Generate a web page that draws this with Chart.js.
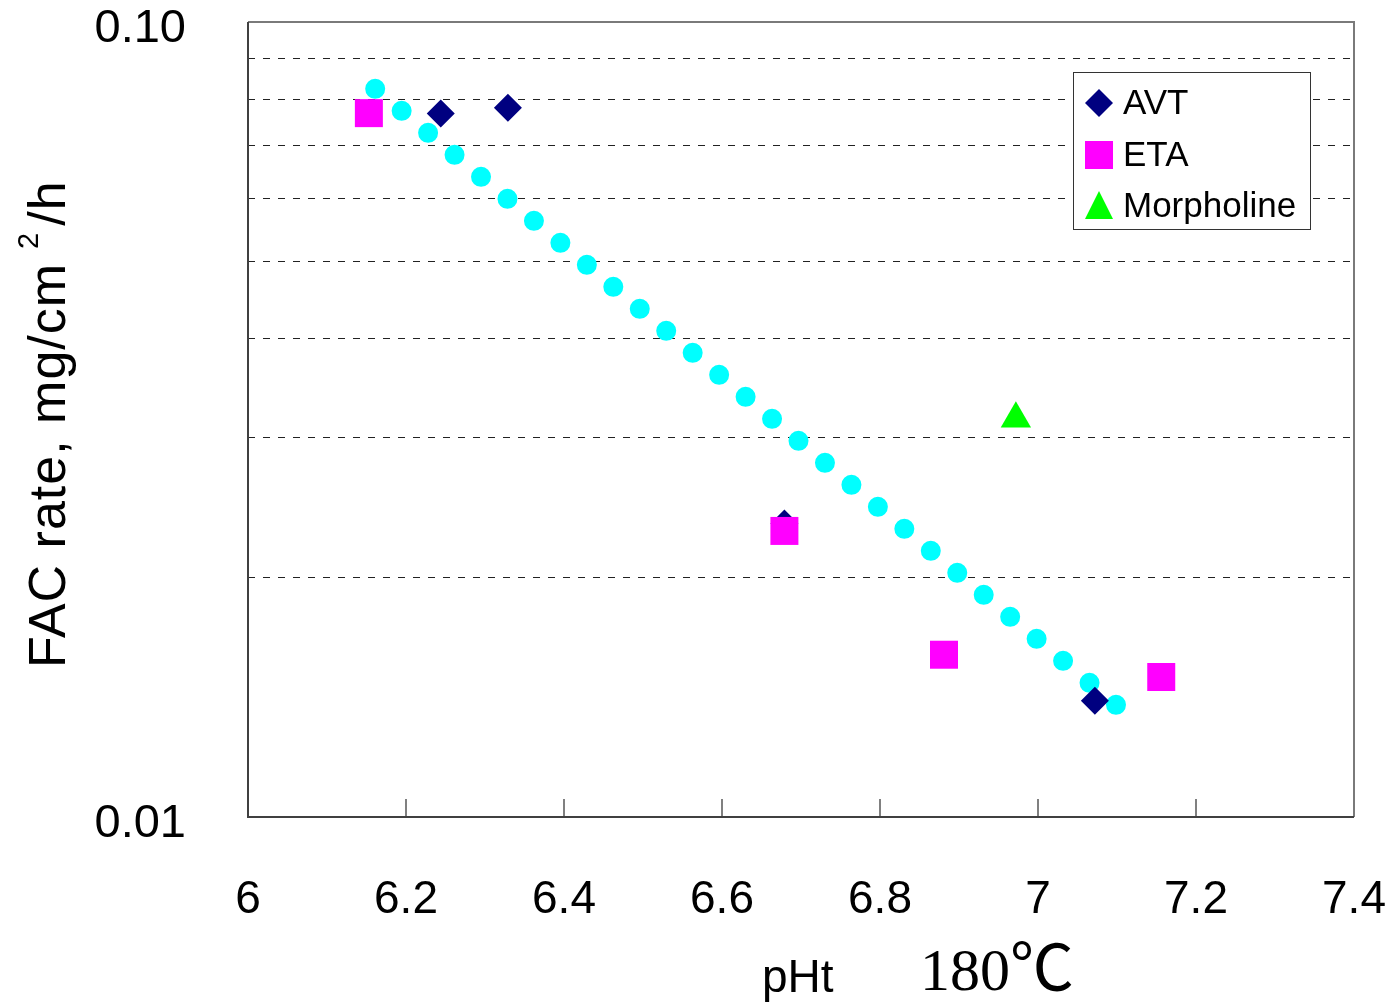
<!DOCTYPE html>
<html>
<head>
<meta charset="utf-8">
<script src="https://cdn.jsdelivr.net/npm/chart.js@4.4.0/dist/chart.umd.min.js"></script>
<style>
  html, body { margin: 0; padding: 0; background: #fff; }
</style>
</head>
<body>
<canvas id="fac" width="1391" height="1003"></canvas>
<script>
// FAC rate vs pHt at 180℃
var xTicks = [6, 6.2, 6.4, 6.6, 6.8, 7, 7.2, 7.4];
var yGrid = [0.01, 0.02, 0.03, 0.04, 0.05, 0.06, 0.07, 0.08, 0.09, 0.1];
var yLabelValues = [0.01, 0.1];
var yLabelTexts = ["0.01", "0.10"];

var seriesNames = ["AVT", "ETA", "Morpholine"];
var avtPH = [6.244, 6.329, 6.679, 7.072];
var avtRate = [0.0767, 0.0780, 0.0234, 0.0140];
var etaPH = [6.153, 6.679, 6.881, 7.156];
var etaRate = [0.0768, 0.0229, 0.0160, 0.0150];
var morphPH = [6.972];
var morphRate = [0.0317];
// dotted trend line (end points)
var trendPH = [6.161, 7.099];
var trendRate = [0.0824, 0.01383];

function pts(xs, ys) {
  return xs.map(function (x, i) { return { x: x, y: ys[i] }; });
}
function near(a, b) { return Math.abs(a - b) < 1e-9; }

Chart.defaults.font.family = '"Liberation Sans", Arial, sans-serif';
Chart.defaults.color = '#000';

// frame, inner ticks, legend box and axis titles
var decorations = {
  id: 'decorations',
  afterDraw: function (chart) {
    var ctx = chart.ctx, a = chart.chartArea, xs = chart.scales.x;
    ctx.save();

    ctx.strokeStyle = '#808080';
    ctx.lineWidth = 2;
    xTicks.forEach(function (v) {
      if (v <= xs.min || v >= xs.max) return;
      var px = Math.round(xs.getPixelForValue(v));
      ctx.beginPath();
      ctx.moveTo(px, a.bottom);
      ctx.lineTo(px, a.bottom - 18);
      ctx.stroke();
    });

    ctx.strokeStyle = '#7a7a7a';
    ctx.beginPath();
    ctx.moveTo(a.left, a.top);
    ctx.lineTo(a.right, a.top);
    ctx.lineTo(a.right, a.bottom);
    ctx.stroke();
    ctx.strokeStyle = '#404040';
    ctx.beginPath();
    ctx.moveTo(a.left, a.top);
    ctx.lineTo(a.left, a.bottom);
    ctx.lineTo(a.right, a.bottom);
    ctx.stroke();

    // legend
    var lx = 1073.5, ly = 72.5, lw = 237, lh = 157;
    ctx.fillStyle = '#fff';
    ctx.fillRect(lx, ly, lw, lh);
    ctx.strokeStyle = '#333';
    ctx.lineWidth = 1;
    ctx.strokeRect(lx, ly, lw, lh);
    var rows = [103, 155, 206];
    ctx.font = '35px "Liberation Sans", Arial, sans-serif';
    ctx.textBaseline = 'middle';
    ctx.textAlign = 'left';
    seriesNames.forEach(function (name, i) {
      var ds = chart.data.datasets.find(function (d) { return d.label === name; });
      var cx = 1099, cy = rows[i];
      ctx.fillStyle = ds.backgroundColor;
      ctx.beginPath();
      if (ds.pointStyle === 'rectRot') {
        ctx.moveTo(cx, cy - 14); ctx.lineTo(cx + 14, cy); ctx.lineTo(cx, cy + 14); ctx.lineTo(cx - 14, cy);
      } else if (ds.pointStyle === 'rect') {
        ctx.rect(cx - 14, cy - 14, 28, 28);
      } else {
        ctx.moveTo(cx, cy - 15); ctx.lineTo(cx + 14, cy + 13); ctx.lineTo(cx - 14, cy + 13);
      }
      ctx.closePath();
      ctx.fill();
      ctx.fillStyle = '#000';
      ctx.fillText(name, 1123, cy + 1);
    });

    // y title with superscript
    ctx.fillStyle = '#000';
    ctx.translate(65, 668);
    ctx.rotate(-Math.PI / 2);
    ctx.textBaseline = 'alphabetic';
    ctx.font = '52px "Liberation Sans", Arial, sans-serif';
    ctx.letterSpacing = '1px';
    var main = 'FAC rate, mg/cm';
    ctx.fillText(main, 0, 0);
    var w1 = ctx.measureText(main).width;
    ctx.font = '29px "Liberation Sans", Arial, sans-serif';
    ctx.fillText('2', w1 + 14, -27);
    var w2 = ctx.measureText('2').width;
    ctx.font = '52px "Liberation Sans", Arial, sans-serif';
    ctx.fillText('/h', w1 + 14 + w2 + 6, 0);
    ctx.setTransform(1, 0, 0, 1, 0, 0);
    ctx.letterSpacing = '0px';

    // x title
    ctx.font = '46px "Liberation Sans", Arial, sans-serif';
    ctx.fillText('pHt', 762, 992);
    ctx.font = '60px "Liberation Serif", "Times New Roman", serif';
    ctx.fillText('180', 920, 990);
    var w3 = ctx.measureText('180').width;
    ctx.font = '64px "Noto Sans CJK JP", sans-serif';
    ctx.fillText('℃', 920 + w3, 990);

    ctx.restore();
  }
};

var chart = new Chart(document.getElementById('fac'), {
  type: 'scatter',
  data: {
    datasets: [
      {
        label: 'AVT',
        data: pts(avtPH, avtRate),
        pointStyle: 'rectRot',
        pointRadius: 14,
        borderWidth: 0,
        backgroundColor: '#000080',
        borderColor: '#000080',
        order: 3
      },
      {
        label: 'ETA',
        data: pts(etaPH, etaRate),
        pointStyle: 'rect',
        pointRadius: 19.8,
        borderWidth: 0,
        backgroundColor: '#FF00FF',
        borderColor: '#FF00FF',
        order: 1
      },
      {
        label: 'Morpholine',
        data: pts(morphPH, morphRate),
        pointStyle: 'triangle',
        pointRadius: 17.5,
        borderWidth: 0,
        backgroundColor: '#00FF00',
        borderColor: '#00FF00',
        order: 2
      },
      {
        label: 'trend',
        data: pts(trendPH, trendRate),
        showLine: true,
        pointRadius: 0,
        borderColor: '#00FFFF',
        borderWidth: 20,
        borderDash: [0, 34.41],
        borderCapStyle: 'round',
        order: 4
      }
    ]
  },
  options: {
    responsive: false,
    animation: false,
    events: [],
    layout: { padding: { top: 22, right: 37, left: 0, bottom: 0 } },
    plugins: {
      legend: { display: false },
      tooltip: { enabled: false }
    },
    scales: {
      x: {
        type: 'linear',
        min: 6,
        max: 7.4,
        afterBuildTicks: function (scale) {
          scale.ticks = xTicks.map(function (v) { return { value: v }; });
        },
        afterFit: function (scale) {
          scale.height = 186;
          scale.paddingLeft = 0;
          scale.paddingRight = 0;
        },
        grid: { display: false, drawTicks: false },
        border: { display: false },
        ticks: {
          padding: 56,
          maxRotation: 0,
          autoSkip: false,
          font: { size: 46 },
          callback: function (v) { return String(Number(Number(v).toFixed(1))); }
        }
      },
      y: {
        type: 'logarithmic',
        min: 0.01,
        max: 0.1,
        afterBuildTicks: function (scale) {
          scale.ticks = yGrid.map(function (v) { return { value: v }; });
        },
        afterFit: function (scale) {
          scale.width = 248;
          scale.paddingTop = 0;
          scale.paddingBottom = 0;
        },
        grid: {
          drawTicks: false,
          lineWidth: 1,
          color: function (c) {
            if (c.tick && (near(c.tick.value, 0.01) || near(c.tick.value, 0.1))) return 'rgba(0,0,0,0)';
            return '#222';
          }
        },
        border: { display: false, dash: [7, 8] },
        ticks: {
          padding: 62,
          labelOffset: 7,
          autoSkip: false,
          font: { size: 47 },
          callback: function (v) {
            for (var i = 0; i < yLabelValues.length; i++) {
              if (near(v, yLabelValues[i])) return yLabelTexts[i];
            }
            return '';
          }
        }
      }
    }
  },
  plugins: [decorations]
});
</script>
</body>
</html>
